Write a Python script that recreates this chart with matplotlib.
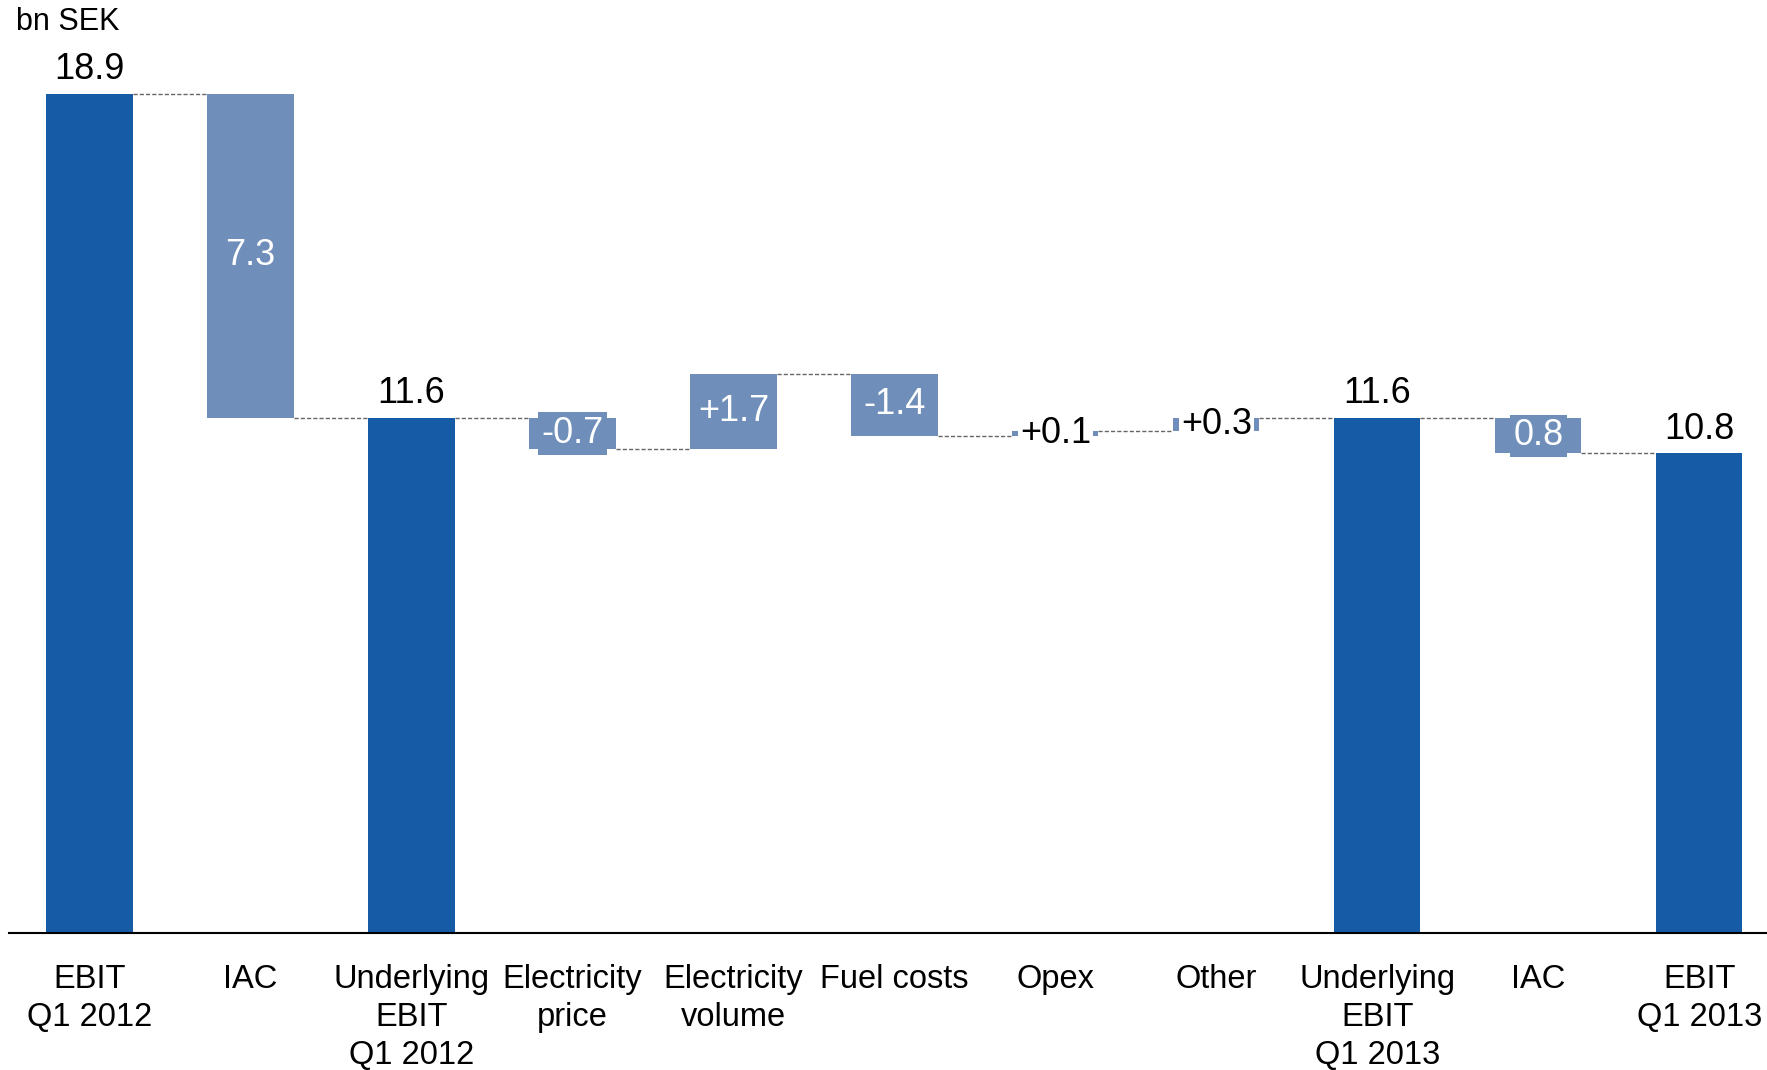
import numpy as np
import matplotlib
matplotlib.use('Agg')
import matplotlib.pyplot as plt

plt.rcParams['font.family'] = ['Liberation Sans', 'DejaVu Sans']

categories = ['EBIT\nQ1 2012', 'IAC', 'Underlying\nEBIT\nQ1 2012', 'Electricity\nprice',
              'Electricity\nvolume', 'Fuel costs', 'Opex', 'Other',
              'Underlying\nEBIT\nQ1 2013', 'IAC', 'EBIT\nQ1 2013']
values = [18.9, -7.3, 11.6, -0.7, 1.7, -1.4, 0.1, 0.3, 11.6, -0.8, 10.8]
is_total = [True, False, True, False, False, False, False, False, True, False, True]
labels = ['18.9', '7.3', '11.6', '-0.7', '+1.7', '-1.4', '+0.1', '+0.3', '11.6', '0.8', '10.8']

dark = '#155BA6'
light = '#6F8FBA'
w = 0.535

fig = plt.figure(figsize=(17.67, 10.70), dpi=100)
ax = fig.add_axes([9/1767, 137/1070, 1 - 9/1767, 933/1070])

x = np.arange(len(values))
bottoms = []
heights = []
levels = []
run = 0.0
for v, tot in zip(values, is_total):
    if tot:
        bottoms.append(0.0)
        heights.append(v)
        run = v
    else:
        bottoms.append(run + min(v, 0))
        heights.append(abs(v))
        run = run + v
    levels.append(run)

colors = [dark if t else light for t in is_total]
ax.bar(x, heights, bottom=bottoms, width=w, color=colors, linewidth=0)

# dashed connectors between bars
for i in range(len(x) - 1):
    ax.plot([x[i] + w/2, x[i+1] - w/2], [levels[i], levels[i]],
            color='#666666', lw=1, dashes=(3, 1.5))

fs = 26
for i, (lab, tot) in enumerate(zip(labels, is_total)):
    top = bottoms[i] + heights[i]
    mid = bottoms[i] + heights[i] / 2
    if tot:
        ax.annotate(lab, (x[i], top), xytext=(0, 5), textcoords='offset points',
                    ha='center', va='bottom', fontsize=fs, color='black')
    elif heights[i] >= 1.0:
        ax.text(x[i], mid, lab, ha='center', va='center', fontsize=fs, color='white')
    elif heights[i] >= 0.5:
        ax.text(x[i], mid, lab, ha='center', va='center', fontsize=fs, color='white',
                bbox=dict(boxstyle='square,pad=0.1', fc=light, ec='none'))
    else:
        ax.text(x[i], mid, lab, ha='center', va='center', fontsize=fs, color='black',
                bbox=dict(boxstyle='square,pad=0.05', fc='white', ec='none'))

ax.set_xlim(-0.5, 10.42)
ax.set_ylim(0, 933 / 44.4)
ax.set_xticks(x)
ax.set_xticklabels(categories, fontsize=23.5, linespacing=1.3)
ax.tick_params(axis='x', length=0, pad=22)
ax.set_yticks([])
for s in ['top', 'right', 'left']:
    ax.spines[s].set_visible(False)
ax.spines['bottom'].set_linewidth(1.5)

fig.text(16/1767, 1 - 22/1070, 'bn SEK', ha='left', va='center', fontsize=22)

fig.savefig('out.png', dpi=100)
